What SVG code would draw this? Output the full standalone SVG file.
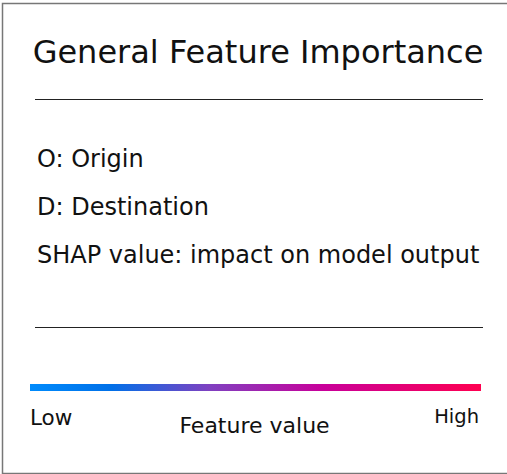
<svg xmlns="http://www.w3.org/2000/svg" width="507" height="474" viewBox="0 0 507 474">
<style>
text{font-family:"DejaVu Sans",sans-serif;fill:#111}
.t{font-size:24px}
.sep{stroke:#222;stroke-width:1}
</style>
<defs>
<linearGradient id="g" x1="0" x2="1" y1="0" y2="0">
<stop offset="0" stop-color="#008bfc"/>
<stop offset="0.18" stop-color="#0070e8"/>
<stop offset="0.4" stop-color="#8040c0"/>
<stop offset="0.65" stop-color="#c8009a"/>
<stop offset="1" stop-color="#ff0050"/>
</linearGradient>
</defs>
<rect x="0" y="0" width="507" height="474" fill="#fff"/>
<path d="M508,3.5H2.5V473.5H508" fill="none" stroke="#777" stroke-width="1.5"/>
<g id="title"><text x="258" y="63" font-size="32" text-anchor="middle">General Feature Importance</text></g>
<line class="sep" x1="35" y1="99.5" x2="483" y2="99.5"/>
<g id="legend">
<text class="t" x="37" y="167">O: Origin</text>
<text class="t" x="37" y="215">D: Destination</text>
<text class="t" x="37" y="263">SHAP value: impact on model output</text>
</g>
<line class="sep" x1="35" y1="327.5" x2="483" y2="327.5"/>
<g id="colorbar">
<rect x="30" y="384" width="451" height="7" fill="url(#g)"/>
<text x="30" y="424.5" font-size="21.5">Low</text>
<text x="254.5" y="433" font-size="22" text-anchor="middle">Feature value</text>
<text x="479" y="423" font-size="19.5" text-anchor="end">High</text>
</g>
</svg>
